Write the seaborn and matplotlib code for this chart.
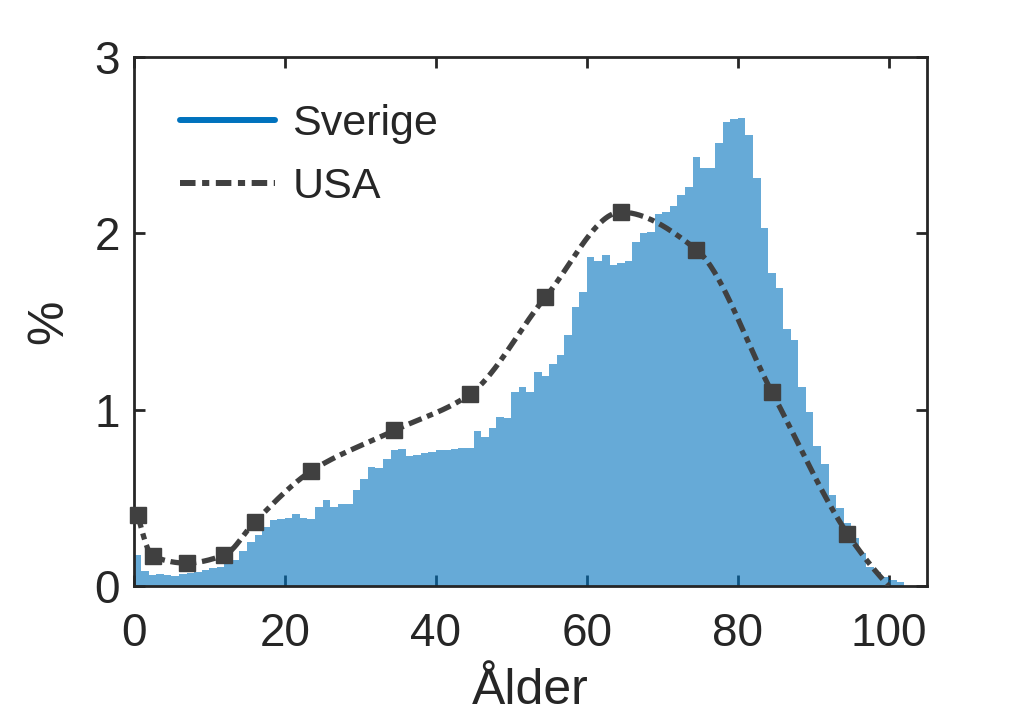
import numpy as np
import pandas as pd
import matplotlib
matplotlib.use('Agg')
import matplotlib.pyplot as plt
import seaborn as sns
from matplotlib.lines import Line2D

# Sverige: share (%) per one-year age group, ages 0..101
AGES = list(range(0, 102))
SVERIGE = [
    0.176, 0.085, 0.060, 0.066, 0.062, 0.058, 0.070, 0.075, 0.080, 0.090,
    0.100, 0.110, 0.125, 0.150, 0.200, 0.250, 0.290, 0.335, 0.374, 0.380,
    0.384, 0.410, 0.386, 0.380, 0.446, 0.490, 0.450, 0.465, 0.465, 0.545,
    0.605, 0.677, 0.670, 0.720, 0.770, 0.776, 0.740, 0.745, 0.755, 0.760,
    0.770, 0.770, 0.775, 0.785, 0.780, 0.880, 0.847, 0.894, 0.957, 0.950,
    1.100, 1.127, 1.098, 1.216, 1.190, 1.260, 1.310, 1.424, 1.584, 1.666,
    1.868, 1.843, 1.877, 1.820, 1.834, 1.845, 1.953, 2.000, 2.005, 2.108,
    2.123, 2.155, 2.218, 2.265, 2.431, 2.369, 2.372, 2.515, 2.634, 2.647,
    2.656, 2.558, 2.316, 2.029, 1.777, 1.688, 1.456, 1.395, 1.127, 0.989,
    0.794, 0.692, 0.516, 0.440, 0.355, 0.270, 0.189, 0.110, 0.081, 0.049,
    0.034, 0.025,
]

# USA: age-group midpoints and share (%), plus the end point of the curve
USA_AGE = [0.5, 2.5, 7, 12, 16, 23.5, 34.5, 44.5, 54.5, 64.5, 74.5, 84.5, 94.5]
USA_PCT = [0.405, 0.170, 0.130, 0.176, 0.363, 0.652, 0.882, 1.087, 1.637, 2.120, 1.908, 1.100, 0.297]
USA_END = (100, 0.0)

BLUE = '#0072BD'
DARK = '#404040'
TXT = '#262626'
DASHDOT = (0, (2.6, 1.1, 1.2, 1.1))


def pchip(x, y, xs):
    # shape-preserving piecewise cubic (Fritsch-Carlson), as MATLAB's pchip
    x = np.asarray(x, float); y = np.asarray(y, float)
    h = np.diff(x); dl = np.diff(y) / h
    n = len(x); d = np.zeros(n)
    for k in range(1, n - 1):
        if dl[k - 1] * dl[k] > 0:
            w1 = 2 * h[k] + h[k - 1]; w2 = h[k] + 2 * h[k - 1]
            d[k] = (w1 + w2) / (w1 / dl[k - 1] + w2 / dl[k])

    def end(h0, h1, d0, d1):
        s = ((2 * h0 + h1) * d0 - h0 * d1) / (h0 + h1)
        if np.sign(s) != np.sign(d0):
            return 0.0
        if np.sign(d0) != np.sign(d1) and abs(s) > abs(3 * d0):
            return 3 * d0
        return s
    d[0] = end(h[0], h[1], dl[0], dl[1])
    d[-1] = end(h[-1], h[-2], dl[-1], dl[-2])
    k = np.clip(np.searchsorted(x, xs) - 1, 0, n - 2)
    t = (xs - x[k]) / h[k]
    h00 = 2 * t**3 - 3 * t**2 + 1; h10 = t**3 - 2 * t**2 + t
    h01 = -2 * t**3 + 3 * t**2; h11 = t**3 - t**2
    return h00 * y[k] + h10 * h[k] * d[k] + h01 * y[k + 1] + h11 * h[k] * d[k + 1]


sns.set_style('white')
plt.rcParams['font.family'] = ['Liberation Sans', 'DejaVu Sans']

# one observation per age, placed mid-bin, weighted by its share
df = pd.DataFrame({'age': np.asarray(AGES, float) + 0.5, 'pct': SVERIGE})

fig = plt.figure(figsize=(10.24, 7.25), dpi=100)
ax = fig.add_axes([0.1306, 0.1917, 0.7744, 0.7297])

sns.histplot(data=df, x='age', weights='pct', binwidth=1, binrange=(0, 102),
             color=BLUE, alpha=0.6, linewidth=0, ax=ax)

kx = USA_AGE + [USA_END[0]]
ky = USA_PCT + [USA_END[1]]
xs = np.linspace(kx[0], kx[-1], 600)
ax.plot(xs, pchip(kx, ky, xs), color=DARK, lw=3.8, linestyle=DASHDOT, zorder=3)
ax.plot(USA_AGE, USA_PCT, linestyle='none', marker='s', ms=11.5, color=DARK,
        clip_on=False, zorder=4)

ax.set_xlim(0, 105)
ax.set_ylim(0, 3)
ax.set_xticks([0, 20, 40, 60, 80, 100])
ax.set_yticks([0, 1, 2, 3])
ax.tick_params(direction='in', length=8, width=2, colors=TXT, labelsize=33, pad=10,
               top=True, right=True, bottom=True, left=True)
ax.tick_params(axis='x', pad=19)
for s in ax.spines.values():
    s.set_linewidth(2); s.set_color(TXT)
ax.set_xlabel('Ålder', fontsize=36, color=TXT, labelpad=8)
ax.set_ylabel('%', fontsize=36, color=TXT, labelpad=16)

handles = [Line2D([0], [0], color=BLUE, lw=4.3),
           Line2D([0], [0], color=DARK, lw=4.3, linestyle=DASHDOT)]
ax.legend(handles, ['Sverige', 'USA'], loc='upper left', frameon=False, fontsize=31,
          handlelength=2.2, handletextpad=0.4, labelspacing=0.55,
          bbox_to_anchor=(0.01, 0.985), labelcolor=TXT)

fig.savefig('out.png', dpi=100)
